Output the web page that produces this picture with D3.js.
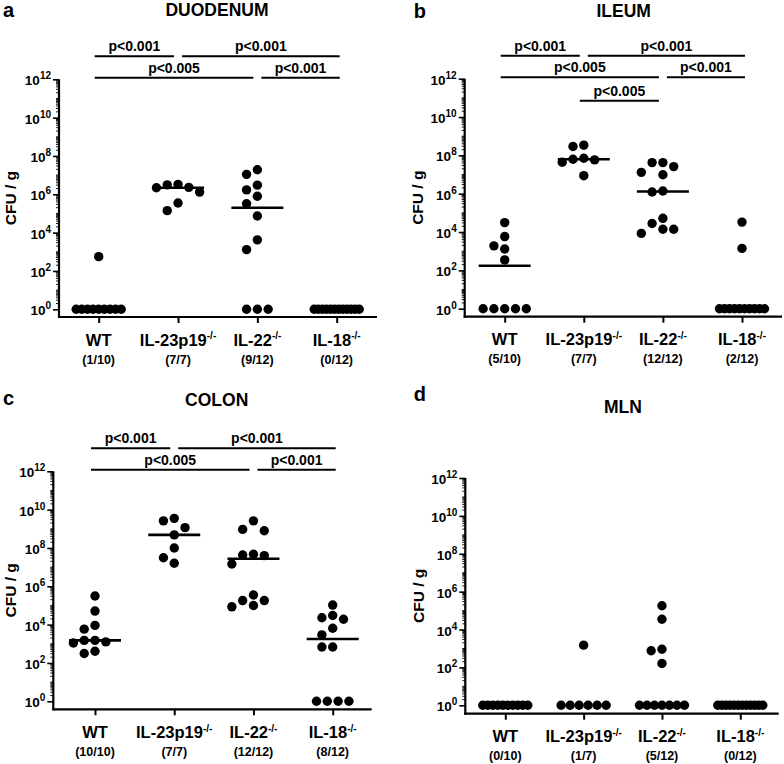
<!DOCTYPE html>
<html>
<head>
<meta charset="utf-8">
<script src="https://cdn.jsdelivr.net/npm/d3@7"></script>
<style>
  html, body { margin: 0; padding: 0; background: #fff; }
  svg text { font-family: "Liberation Sans", Arial, Helvetica, sans-serif; font-weight: bold; fill: #000; }
</style>
</head>
<body>
<svg id="chart" width="784" height="764"></svg>
<script>
// ---------------- DATA ----------------
const categoryNames = ["WT", "IL-23p19", "IL-22", "IL-18"];
const categorySup = ["", "-/-", "-/-", "-/-"];
const panelTitles = ["DUODENUM", "ILEUM", "COLON", "MLN"];
const panelLetters = ["a", "b", "c", "d"];
const yTickExponents = [0, 2, 4, 6, 8, 10, 12];
const yLabel = "CFU / g";

// CFU/g per mouse; culture-negative animals are plotted at 10^0 (=1)
const duodenumCFU = [
  [1, 1, 1, 1, 1, 1, 1, 1, 1, 560],
  [3.1e6, 2.2e6, 1.3e6, 2.3e6, 3.3e6, 3.5e5, 1.4e5],
  [1, 1, 1, 1.9e7, 1.1e7, 3.0e6, 1.7e6, 7.9e5, 3.2e5, 7.4e4, 4.2e3, 1.3e3],
  [1, 1, 1, 1, 1, 1, 1, 1, 1, 1, 1, 1]
];
const ileumCFU = [
  [1, 1, 1, 1, 1, 3.1e4, 5.8e3, 1.3e3, 1.9e3, 350],
  [7.1e7, 5.8e7, 4.4e7, 6.3e7, 2.9e8, 3.4e8, 8.7e6],
  [4.2e7, 4.2e7, 2.6e7, 1.3e7, 9.8e6, 1.23e6, 1.38e6, 5.2e4, 1.4e4, 1.4e4, 8.5e3, 2.8e4],
  [1, 1, 1, 1, 1, 1, 1, 1, 1, 1, 3.3e4, 1.4e3]
];
const colonCFU = [
  [3.1e5, 5.1e4, 9.1e3, 5.8e3, 1.26e3, 1.5e3, 1.5e3, 1.1e3, 310, 410],
  [3.5e9, 2.6e9, 1.15e9, 4.8e8, 1.0e8, 3.1e7, 1.6e7],
  [9.3e8, 7.9e8, 2.6e9, 4.3e7, 1.45e7, 4.0e7, 4.7e7, 3.5e5, 1.8e5, 1.8e5, 8.5e4, 1.0e5],
  [1, 1, 1, 1, 1.05e5, 2.3e4, 1.9e4, 3.0e4, 6.5e3, 2.9e3, 680, 680]
];
const mlnCFU = [
  [1, 1, 1, 1, 1, 1, 1, 1, 1, 1],
  [1, 1, 1, 1, 1, 1, 1.5e3],
  [1, 1, 1, 1, 1, 1, 1, 1.8e5, 3.5e4, 760, 910, 160],
  [1, 1, 1, 1, 1, 1, 1, 1, 1, 1, 1, 1]
];

// significance comparisons: [fromCategory, toCategory, label, row]
const duodenumSig = [[0, 1, "p<0.001", 0], [1, 3, "p<0.001", 0], [0, 2, "p<0.005", 1], [2, 3, "p<0.001", 1]];
const ileumSig = [[0, 1, "p<0.001", 0], [1, 3, "p<0.001", 0], [0, 2, "p<0.005", 1], [2, 3, "p<0.001", 1], [1, 2, "p<0.005", 2]];
const colonSig = [[0, 1, "p<0.001", 0], [1, 3, "p<0.001", 0], [0, 2, "p<0.005", 1], [2, 3, "p<0.001", 1]];
const mlnSig = [];

// ---------------- LAYOUT ----------------
const panels = [
  { data: duodenumCFU, sig: duodenumSig, axisX: 59, yTop: 79.3, yZero: 309.3, xAxisY: 317, xEnd: 377, catRange: [98.7, 336.7],
    titleX: 217, titleY: 16, letterX: 3, letterY: 17, ylabX: 11 },
  { data: ileumCFU, sig: ileumSig, axisX: 464.7, yTop: 78.7, yZero: 308.7, xAxisY: 316.7, xEnd: 782, catRange: [504.7, 742],
    titleX: 623.7, titleY: 16.5, letterX: 413.7, letterY: 18, ylabX: 418 },
  { data: colonCFU, sig: colonSig, axisX: 53.3, yTop: 471.3, yZero: 701.3, xAxisY: 709.3, xEnd: 371.7, catRange: [95, 332.7],
    titleX: 216.7, titleY: 406, letterX: 3, letterY: 405.3, ylabX: 11 },
  { data: mlnCFU, sig: mlnSig, axisX: 465.3, yTop: 478, yZero: 705.3, xAxisY: 713.7, xEnd: 778.7, catRange: [505.3, 740.3],
    titleX: 623, titleY: 413, letterX: 413.7, letterY: 401.3, ylabX: 419 }
];

const svg = d3.select("#chart");
const R = 4.7, STEP = 10.8, MINDIST = 10, MAXZEROW = 45;

function placeGroup(vals, y, cx) {
  const pts = [];
  const zeros = vals.filter(v => v <= 1);
  const pos = vals.filter(v => v > 1).sort((a, b) => b - a);
  const n0 = zeros.length;
  const sp = n0 > 1 ? Math.min(STEP, MAXZEROW / (n0 - 1)) : 0;
  zeros.forEach((v, i) => pts.push({ x: cx + (i - (n0 - 1) / 2) * sp, y: y(1) }));
  const placed = [];
  pos.forEach(v => {
    const py = y(v);
    const order = [0, -1, 1, -2, 2, -3, 3, -4, 4];
    for (const k of order) {
      const px = cx + k * STEP;
      if (placed.every(p => Math.hypot(p.x - px, p.y - py) >= MINDIST)) {
        placed.push({ x: px, y: py });
        break;
      }
    }
  });
  return pts.concat(placed);
}

panels.forEach((P, pi) => {
  const g = svg.append("g");
  const y = d3.scaleLog().domain([1, 1e12]).range([P.yZero, P.yTop]);
  const x = d3.scalePoint().domain(d3.range(categoryNames.length)).range(P.catRange);

  // title & letter
  g.append("text").attr("x", P.titleX).attr("y", P.titleY).attr("text-anchor", "middle")
    .style("font-size", "17.5px").text(panelTitles[pi]);
  g.append("text").attr("x", P.letterX).attr("y", P.letterY).style("font-size", "20px").text(panelLetters[pi]);

  // y axis (custom log ticks)
  const yAxis = d3.axisLeft(y).tickValues(yTickExponents.map(e => Math.pow(10, e)))
    .tickSize(6).tickFormat("");
  const ya = g.append("g").attr("transform", `translate(${P.axisX},0)`).call(yAxis);
  ya.select(".domain").remove();
  ya.selectAll(".tick line").attr("stroke", "#000").attr("stroke-width", 1.6);
  // minor ticks
  const minor = [];
  for (let e = 0; e < 12; e++) for (let k = 2; k <= 9; k++) minor.push(k * Math.pow(10, e));
  for (let e = 1; e < 12; e += 2) minor.push(Math.pow(10, e));
  g.append("g").selectAll("line").data(minor).join("line")
    .attr("x1", P.axisX - 3).attr("x2", P.axisX)
    .attr("y1", d => y(d)).attr("y2", d => y(d))
    .attr("stroke", "#000").attr("stroke-width", 0.9);
  // tick labels with superscripts
  const tl = g.append("g").selectAll("text").data(yTickExponents).join("text")
    .attr("x", P.axisX - 8).attr("y", e => y(Math.pow(10, e)) + 6)
    .attr("text-anchor", "end").style("font-size", "13.5px");
  tl.append("tspan").text("10");
  tl.append("tspan").attr("dy", -6).style("font-size", "10px").text(e => e);

  // axis lines
  g.append("line").attr("x1", P.axisX).attr("x2", P.axisX).attr("y1", P.yTop).attr("y2", P.xAxisY + 1)
    .attr("stroke", "#000").attr("stroke-width", 2.2);
  g.append("line").attr("x1", P.axisX - 1).attr("x2", P.xEnd).attr("y1", P.xAxisY).attr("y2", P.xAxisY)
    .attr("stroke", "#000").attr("stroke-width", 2.2);

  // x axis
  const xAxis = d3.axisBottom(x).tickSize(6).tickFormat("");
  const xa = g.append("g").attr("transform", `translate(0,${P.xAxisY})`).call(xAxis);
  xa.select(".domain").remove();
  xa.selectAll(".tick line").attr("stroke", "#000").attr("stroke-width", 2);

  const xl = g.append("g").selectAll("text").data(categoryNames).join("text")
    .attr("x", (d, i) => x(i)).attr("y", P.xAxisY + 28.7).attr("text-anchor", "middle")
    .style("font-size", "16.5px");
  xl.append("tspan").text(d => d);
  xl.append("tspan").attr("dy", -6.5).style("font-size", "10px").text((d, i) => categorySup[i]);

  g.append("g").selectAll("text").data(P.data).join("text")
    .attr("x", (d, i) => x(i)).attr("y", P.xAxisY + 46.5).attr("text-anchor", "middle")
    .style("font-size", "12.5px")
    .text(d => `(${d.filter(v => v > 1).length}/${d.length})`);

  // y label
  g.append("text").attr("transform", `translate(${P.ylabX},${(P.yTop + P.xAxisY) / 2}) rotate(-90)`)
    .attr("text-anchor", "middle").attr("dy", "0.35em").style("font-size", "15.5px").text(yLabel);

  // points
  P.data.forEach((vals, ci) => {
    const pts = placeGroup(vals, y, x(ci));
    g.append("g").selectAll("circle").data(pts).join("circle")
      .attr("cx", d => d.x).attr("cy", d => d.y).attr("r", R).attr("fill", "#000");
    const med = d3.median(vals);
    if (med > 1) {
      g.append("line").attr("x1", x(ci) - 26).attr("x2", x(ci) + 26)
        .attr("y1", y(med)).attr("y2", y(med)).attr("stroke", "#000").attr("stroke-width", 2.6);
    }
  });

  // significance bars
  const rowY = [P.yTop - 23, P.yTop - 1.5, P.yTop + 22];
  const last = categoryNames.length - 1;
  P.sig.forEach(([a, b, lab, row]) => {
    const shareStart = P.sig.some(s => s[3] === row && s[1] === a);
    const x1 = x(a) + (shareStart ? 4 : -4);
    const x2 = x(b) + (b === last ? 3 : -4);
    const yy = rowY[row];
    g.append("line").attr("x1", x1).attr("x2", x2).attr("y1", yy).attr("y2", yy)
      .attr("stroke", "#000").attr("stroke-width", 2);
    g.append("text").attr("x", (x1 + x2) / 2).attr("y", yy - 5).attr("text-anchor", "middle")
      .style("font-size", "14px").text(lab);
  });
});
</script>
</body>
</html>
